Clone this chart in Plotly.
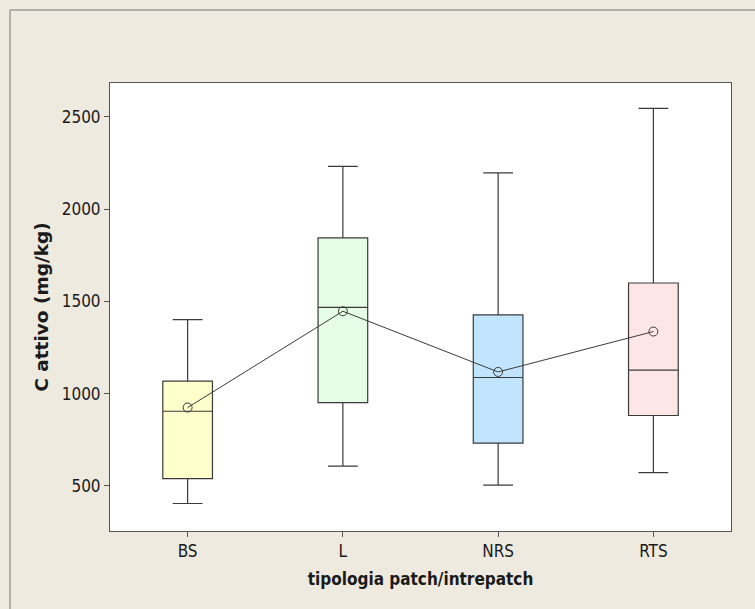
import plotly.graph_objects as go

categories = ["BS", "L", "NRS", "RTS"]
lower_whisker = [405, 608, 505, 572]
q1_values = [540, 952, 732, 882]
median_values = [905, 1468, 1088, 1128]
q3_values = [1068, 1845, 1427, 1600]
upper_whisker = [1402, 2232, 2197, 2547]
mean_values = [925, 1447, 1118, 1337]
box_colors = ["#FFFFCC", "#E4FDE4", "#C2E5FF", "#FFE6E6"]
y_ticks = [500, 1000, 1500, 2000, 2500]

LINE = "#3a3a3a"
BG = "#EEEAE0"
FONT = "DejaVu Sans Condensed, DejaVu Sans, sans-serif"

fig = go.Figure()
xs = list(range(len(categories)))

for i, cat in enumerate(categories):
    fig.add_trace(go.Box(
        x=[i], q1=[q1_values[i]], median=[median_values[i]], q3=[q3_values[i]],
        lowerfence=[lower_whisker[i]], upperfence=[upper_whisker[i]],
        width=0.32, fillcolor=box_colors[i],
        line=dict(color=LINE, width=1.2), whiskerwidth=0.6,
        boxpoints=False, showlegend=False, hoverinfo="skip",
    ))

fig.add_trace(go.Scatter(
    x=xs, y=mean_values, mode="lines+markers",
    line=dict(color=LINE, width=1),
    marker=dict(symbol="circle-open", size=9, color=LINE, line=dict(width=1)),
    showlegend=False, hoverinfo="skip",
))

fig.update_layout(
    width=755, height=609,
    margin=dict(l=110, r=24, t=83, b=78),
    paper_bgcolor=BG, plot_bgcolor="white",
    font=dict(family=FONT, size=17, color="#1a1a1a"),
    showlegend=False,
)
fig.update_xaxes(
    range=[-0.5, 3.5], tickvals=xs, ticktext=categories,
    showline=True, linecolor="#555555", linewidth=1, mirror=True,
    ticks="outside", ticklen=5, tickcolor="#555555",
    showgrid=False, zeroline=False,
    title=dict(text="<b>tipologia patch/intrepatch</b>", font=dict(size=17), standoff=12),
)
fig.update_yaxes(
    range=[256, 2684], tickvals=y_ticks,
    showline=True, linecolor="#555555", linewidth=1, mirror=True,
    ticks="outside", ticklen=5, tickcolor="#555555",
    showgrid=False, zeroline=False,
    title=dict(text="<b>C attivo (mg/kg)</b>",
               font=dict(size=18.5, family="DejaVu Sans, sans-serif"), standoff=8),
)

# outer frame (top and left edges)
fx = (10 - 110) / 621
fy = (531 - 10) / 448
fig.add_shape(type="line", xref="paper", yref="paper", x0=fx, y0=fy, x1=1.2, y1=fy,
              line=dict(color="#777777", width=1))
fig.add_shape(type="line", xref="paper", yref="paper", x0=fx, y0=fy, x1=fx, y1=-0.3,
              line=dict(color="#777777", width=1))

fig.write_html("out.html", config={"displayModeBar": False},
               post_script="document.body.style.margin='0';document.body.style.background='%s';" % BG)
